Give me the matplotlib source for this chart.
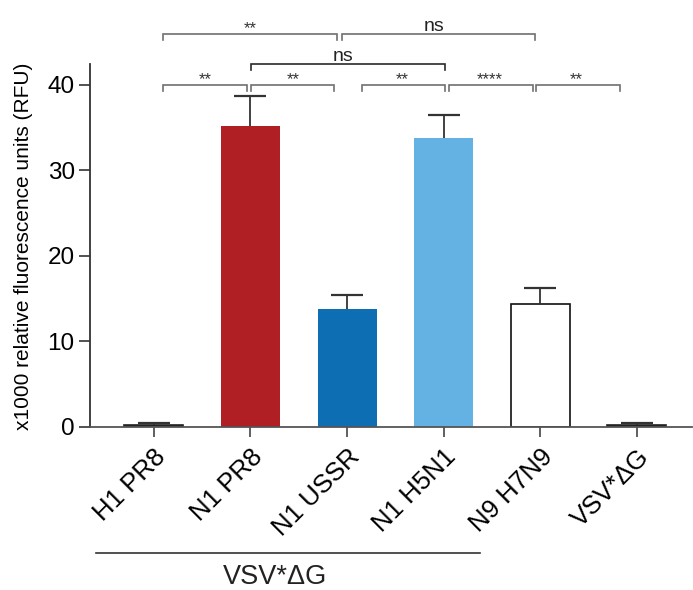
import matplotlib
matplotlib.use("Agg")
import matplotlib.pyplot as plt
import matplotlib.transforms as mtransforms

plt.rcParams['font.family'] = ['Liberation Sans', 'DejaVu Sans']

categories = ["H1 PR8", "N1 PR8", "N1 USSR", "N1 H5N1", "N9 H7N9", "VSV*\u0394G"]
values = [0.15, 35.2, 13.75, 33.7, 14.4, 0.15]
errors = [0.25, 3.5, 1.65, 2.7, 1.8, 0.25]
colors = ["#222222", "#B01F24", "#0E6EB4", "#63B2E3", "white", "#222222"]

# significance brackets: (x_start, x_end, y, label, label_x, color)
brackets = [
    (0.10, 0.96, 40.0, "**", 0.53, "#707070"),
    (1.01, 1.87, 40.0, "**", 1.44, "#707070"),
    (2.15, 3.01, 40.0, "**", 2.57, "#707070"),
    (3.05, 3.92, 40.0, "****", 3.48, "#707070"),
    (3.96, 4.82, 40.0, "**", 4.37, "#707070"),
    (1.01, 3.01, 42.37, "ns", 1.96, "#2a2a2a"),
    (0.10, 1.90, 45.88, "**", 1.0, "#707070"),
    (1.95, 3.95, 45.88, "ns", 2.9, "#707070"),
]
group_label = "VSV*\u0394G"

fig = plt.figure(figsize=(6.93, 5.90), dpi=100)
ax = fig.add_axes([0.1299, 0.2768, 0.8687, 0.6147])

x = list(range(len(categories)))
ax.bar(x, values, width=0.61, color=colors,
       edgecolor=["#222222", "none", "none", "none", "#111111", "#222222"],
       linewidth=1.2, zorder=2)
eb = ax.errorbar(x, values, yerr=[[0] * len(errors), errors], fmt="none",
                 ecolor="#333333", elinewidth=1.3, capsize=11.5, capthick=1.6, zorder=3)
# hide the caps at the bar tops (lower end of one-sided error bars)
eb[1][0].set_visible(False)

ax.set_xlim(-0.66, 5.57)
ax.set_ylim(0, 42.4)
ax.set_yticks([0, 10, 20, 30, 40])
ax.set_xticks(x)
ax.set_xticklabels(categories, rotation=45, ha="right", va="top",
                   rotation_mode="anchor", fontsize=18.5)
ax.tick_params(axis="y", labelsize=17.5, length=8, width=1.2, color="#333333", pad=3)
ax.tick_params(axis="x", length=7, width=1.2, color="#444444", pad=6)

for s in ["top", "right"]:
    ax.spines[s].set_visible(False)
ax.spines["left"].set_color("#333333")
ax.spines["left"].set_linewidth(1.3)
ax.spines["bottom"].set_color("#555555")
ax.spines["bottom"].set_linewidth(1.3)

ax.set_ylabel("x1000 relative fluorescence units (RFU)", fontsize=15)
ax.yaxis.set_label_coords(-0.095, 0.497)

tick_len = 0.7
for x0, x1, y, lab, lx, col in brackets:
    ax.plot([x0, x0, x1, x1], [y - tick_len, y, y, y - tick_len], color=col,
            lw=1.2, clip_on=False, solid_joinstyle="miter")
    if lab == "ns":
        ax.text(lx, y + 0.35, lab, ha="center", va="baseline", fontsize=14,
                color="#222222", clip_on=False)
    else:
        ax.text(lx, y + 0.1, lab, ha="center", va="baseline", fontsize=12,
                color="#333333", clip_on=False)

trans = mtransforms.blended_transform_factory(ax.transData, ax.transAxes)
ax.plot([-0.60, 3.375], [-0.347, -0.347], color="#333333", lw=1.2,
        transform=trans, clip_on=False)
ax.text(1.258, -0.433, group_label, ha="center", va="baseline", fontsize=19.5,
        color="#222222", transform=trans)

fig.savefig("out.png", dpi=100)
